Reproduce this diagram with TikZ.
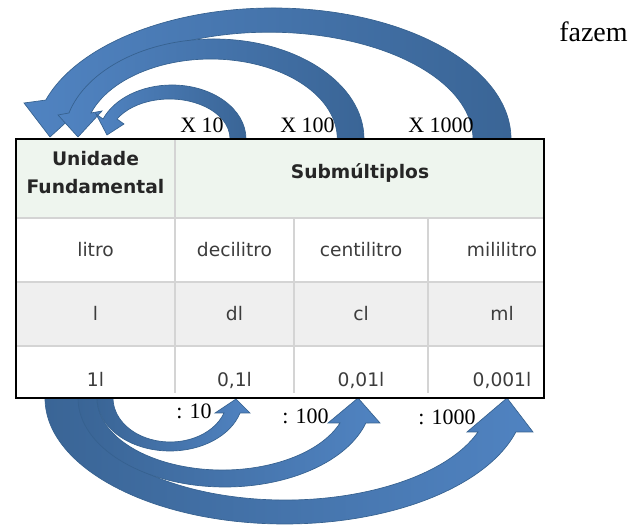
\documentclass[tikz,border=0pt]{standalone}
\usepackage{fontspec}
\setmainfont{Liberation Serif}
\newfontfamily\tabfont{DejaVu Sans}
\usetikzlibrary{positioning}
\definecolor{headgreen}{HTML}{EEF5EE}
\definecolor{rowgray}{HTML}{EFEFEF}
\definecolor{gridgray}{HTML}{D4D4D4}
\definecolor{celltext}{HTML}{3C3C3C}
\definecolor{arrowlight}{HTML}{5083C1}
\definecolor{arrowdark}{HTML}{3A6596}
\definecolor{arrowline}{HTML}{36618F}

\begin{document}
\begin{tikzpicture}[x=0.75pt, y=0.75pt,
    cell/.style={font=\tabfont\fontsize{14}{16}\selectfont, text=celltext,
      text height=10pt, text depth=0pt, inner sep=0pt},
    headcell/.style={font=\tabfont\bfseries\fontsize{14}{21}\selectfont,
      text=black!85, align=center, inner sep=0pt},
    factor/.style={font=\fontsize{16.5}{18}\selectfont, anchor=base west, inner sep=0pt},
    leftarc/.style={left color=arrowlight, right color=arrowdark, draw=arrowline, line width=0.5pt},
    rightarc/.style={left color=arrowdark, right color=arrowlight, draw=arrowline, line width=0.5pt},
    grid/.style={gridgray, line width=1.5pt}]
  \useasboundingbox (0,0) rectangle (635,527);

  %multiply arrows, over the table
  \draw[leftarc] (511,388) arc[start angle=0, end angle=162.7, x radius=238, y radius=131]
    -- (24,424) -- (50,390) -- (96,432) -- (79,427)
    arc[start angle=158.5, end angle=0, x radius=204.1, y radius=107] -- cycle;
  \draw[leftarc] (364,388) arc[start angle=0, end angle=164.93, x radius=150.1, y radius=100]
    -- (58,412) -- (78,390) -- (102,416) -- (91,414)
    arc[start angle=161, end angle=0, x radius=126.6, y radius=80] -- cycle;
  \draw[leftarc] (246,388) arc[start angle=0, end angle=158.26, x radius=74.1, y radius=54]
    -- (96,413) -- (107,392) -- (124,403) -- (117,408)
    arc[start angle=150, end angle=0, x radius=60.6, y radius=40] -- cycle;

  %divide arrows, under the table
  \draw[rightarc] (45,129) arc[start angle=180, end angle=344.35, x radius=239.9, y radius=126]
    -- (533,95) -- (507,129) -- (467,95) -- (478,95)
    arc[start angle=340.55, end angle=180, x radius=204.4, y radius=102] -- cycle;
  \draw[rightarc] (78,129) arc[start angle=180, end angle=343.68, x radius=146.9, y radius=89]
    -- (380,104) -- (358,129) -- (328,104) -- (340,104)
    arc[start angle=339.7, end angle=180, x radius=125.4, y radius=72] -- cycle;
  \draw[rightarc] (97,129) arc[start angle=180, end angle=343.57, x radius=73, y radius=53]
    -- (250,114) -- (236,128) -- (215,114) -- (224,114)
    arc[start angle=340.07, end angle=180, x radius=57.2, y radius=44] -- cycle;

  %table
  \fill[headgreen] (16,388) rectangle (544,309);
  \fill[white] (16,309) rectangle (544,245);
  \fill[rowgray] (16,245) rectangle (544,181);
  \fill[white] (16,181) rectangle (544,129);
  \draw[grid] (16,309) -- (544,309);
  \draw[grid] (16,245) -- (544,245);
  \draw[grid] (16,181) -- (544,181);
  \draw[grid] (175,388) -- (175,134);
  \draw[grid] (294,309) -- (294,134);
  \draw[grid] (428,309) -- (428,134);
  \draw[black, line width=1pt] (16,129) rectangle (544,388);

  \node[headcell] (unidade) at (95.5,354) {Unidade\\Fundamental};
  \node[headcell] (sub) at (360,354) {Submúltiplos};

  \node[cell] (litro) at (95.5,277) {litro};
  \node[cell] (deci) at (234.5,277) {decilitro};
  \node[cell] (centi) at (361,277) {centilitro};
  \node[cell] (mili) at (502,277) {mililitro};

  \node[cell] (l) at (95.5,213) {l};
  \node[cell] (dl) at (234.5,213) {dl};
  \node[cell] (cl) at (361,213) {cl};
  \node[cell] (ml) at (502,213) {ml};

  \node[cell] (um) at (95.5,147) {1l};
  \node[cell] (umdeci) at (234.5,147) {0,1l};
  \node[cell] (umcenti) at (361,147) {0,01l};
  \node[cell] (ummili) at (502,147) {0,001l};

  %labels
  \node[factor] (x10) at (180,394) {X 10};
  \node[factor] (x100) at (280,394) {X 100};
  \node[factor] (x1000) at (408,394) {X 1000};
  \node[factor] (d10) at (176,108) {: 10};
  \node[factor] (d100) at (282,103) {: 100};
  \node[factor] (d1000) at (418,102) {: 1000};
  \node[anchor=base west, font=\fontsize{21}{24}\selectfont, inner sep=0pt] (fazem) at (559,485) {fazem};
\end{tikzpicture}
\end{document}
